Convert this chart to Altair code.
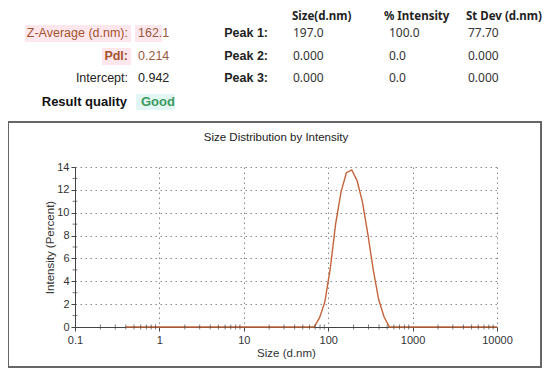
import altair as alt
import pandas as pd

# ---- data ----
sizes = [0.4, 0.4632, 0.5365, 0.6213, 0.7195, 0.8332, 0.9649, 1.117, 1.294, 1.499,
         1.736, 2.010, 2.328, 2.696, 3.122, 3.615, 4.187, 4.849, 5.615, 6.503,
         7.531, 8.721, 10.10, 11.70, 13.54, 15.69, 18.17, 21.04, 24.36, 28.21,
         32.67, 37.84, 43.82, 50.75, 58.77, 68.06, 78.82, 91.28, 105.7, 122.4,
         141.8, 164.2, 190.1, 220.2, 255.0, 295.3, 342.0, 396.1, 458.7, 531.2,
         615.1, 712.4, 825.0, 955.4, 1106, 1281, 1484, 1718, 1990, 2305,
         2669, 3091, 3580, 4145, 4801, 5560, 6439, 7456, 8635, 10000]
intensity = [0, 0, 0, 0, 0, 0, 0, 0, 0, 0,
             0, 0, 0, 0, 0, 0, 0, 0, 0, 0,
             0, 0, 0, 0, 0, 0, 0, 0, 0, 0,
             0, 0, 0, 0, 0, 0, 0.8, 2.2, 5.1, 9.0,
             11.8, 13.5, 13.75, 12.8, 10.9, 8.1, 5.0, 2.4, 0.9, 0,
             0, 0, 0, 0, 0, 0, 0, 0, 0, 0,
             0, 0, 0, 0, 0, 0, 0, 0, 0, 0]

x_ticks = [0.1, 1, 10, 100, 1000, 10000]
x_minor = [0.2, 0.3, 0.4, 0.5, 0.6, 0.7, 0.8, 0.9,
           2, 3, 4, 5, 6, 7, 8, 9,
           20, 30, 40, 50, 60, 70, 80, 90,
           200, 300, 400, 500, 600, 700, 800, 900,
           2000, 3000, 4000, 5000, 6000, 7000, 8000, 9000]
y_ticks = [0, 2, 4, 6, 8, 10, 12, 14]
y_minor = [1, 3, 5, 7, 9, 11, 13]

chart_title = "Size Distribution by Intensity"
x_title = "Size (d.nm)"
y_title = "Intensity (Percent)"

summary_labels = ["Z-Average (d.nm):", "PdI:", "Intercept:"]
summary_values = ["162.1", "0.214", "0.942"]
quality_label = "Result quality"
quality_value = "Good"
peak_headers = ["Size(d.nm)", "% Intensity", "St Dev (d.nm)"]
peak_labels = ["Peak 1:", "Peak 2:", "Peak 3:"]
peak_size = ["197.0", "0.000", "0.000"]
peak_intensity = ["100.0", "0.0", "0.0"]
peak_stdev = ["77.70", "0.000", "0.000"]

df = pd.DataFrame({"size": sizes, "intensity": intensity})

W, H = 422, 160
LINE = "#c4633a"
AX = "#444444"

xscale = alt.Scale(type="log", domain=[0.1, 10000], nice=False)
yscale = alt.Scale(domain=[0, 14], nice=False, zero=True)

xaxis = alt.Axis(values=x_ticks, format="~g", title=x_title,
                 grid=True, gridDash=[1.5, 3.5], gridColor="#888888",
                 domainColor=AX, tickColor=AX, tickSize=4,
                 labelOverlap=False, labelFlush=False,
                 labelFontSize=11, labelColor="#333333", labelPadding=3,
                 labelFont="Liberation Sans", titleFont="Liberation Sans",
                 titleFontSize=11.5, titleFontWeight="normal",
                 titleColor="#333333", titleX=W / 2, titleY=26,
                 titleBaseline="middle")
yaxis = alt.Axis(values=y_ticks, title=y_title,
                 grid=True, gridDash=[1.5, 3.5], gridColor="#888888",
                 domainColor=AX, tickColor=AX, tickSize=4,
                 labelOverlap=False, labelFlush=False,
                 labelFontSize=11, labelColor="#333333", labelPadding=2,
                 labelFont="Liberation Sans", titleFont="Liberation Sans",
                 titleFontSize=11.5, titleFontWeight="normal",
                 titleColor="#333333", titleX=-25, titleY=H / 2,
                 titleAngle=270, titleAlign="center",
                 titleBaseline="middle")

line = alt.Chart(df).mark_line(color=LINE, strokeWidth=1.4).encode(
    x=alt.X("size:Q", scale=xscale, axis=xaxis, title=x_title),
    y=alt.Y("intensity:Q", scale=yscale, axis=yaxis, title=y_title),
)

xminor = alt.Chart(pd.DataFrame({"size": x_minor, "intensity": [0] * len(x_minor)})).mark_tick(
    orient="vertical", size=5, thickness=1, color=AX
).encode(x=alt.X("size:Q", scale=xscale, axis=xaxis, title=x_title),
         y=alt.Y("intensity:Q", scale=yscale, axis=yaxis, title=y_title))

yminor = alt.Chart(pd.DataFrame({"intensity": y_minor, "size": [0.1] * len(y_minor)})).mark_tick(
    orient="horizontal", size=5, thickness=1, color=AX
).encode(x=alt.X("size:Q", scale=xscale, axis=xaxis, title=x_title),
         y=alt.Y("intensity:Q", scale=yscale, axis=yaxis, title=y_title))


def one():
    return pd.DataFrame({"t": [""]})


def txt(s, x, y, align="left", color="#222222", size=12.5, weight="normal",
        font="Liberation Sans"):
    return alt.Chart(pd.DataFrame({"t": [s]})).mark_text(
        align=align, baseline="middle", color=color, fontSize=size,
        fontWeight=weight, font=font
    ).encode(x=alt.value(x), y=alt.value(y), text="t:N")


def box(x1, x2, y1, y2, color):
    return alt.Chart(one()).mark_rect(color=color).encode(
        x=alt.value(x1), x2=alt.value(x2), y=alt.value(y1), y2=alt.value(y2))


OX, OY = 75, 167  # page offset of plot origin

frame = alt.Chart(one()).mark_rect(fillOpacity=0, stroke="#666666", strokeWidth=2).encode(
    x=alt.value(8 - OX), x2=alt.value(541 - OX),
    y=alt.value(122 - OY), y2=alt.value(367 - OY))

layers = [frame]
# highlight backgrounds
layers.append(box(25 - OX, 131 - OX, 25 - OY, 42 - OY, "#fde6ec"))
layers.append(box(135 - OX, 162 - OX, 25 - OY, 42 - OY, "#fde6ec"))
layers.append(box(102 - OX, 131 - OX, 48 - OY, 65 - OY, "#fde6ec"))
layers.append(box(136 - OX, 175 - OX, 94 - OY, 110 - OY, "#e2f6f3"))

rows_y = [33, 56, 78]
label_colors = ["#a5532f", "#a5532f", "#222222"]
label_weights = ["normal", "bold", "normal"]
value_colors = ["#9a5a3e", "#9a5a3e", "#222222"]
for i in range(3):
    layers.append(txt(summary_labels[i], 128 - OX, rows_y[i] - OY, align="right",
                      color=label_colors[i], weight=label_weights[i]))
    layers.append(txt(summary_values[i], 138 - OX, rows_y[i] - OY,
                      color=value_colors[i]))
    layers.append(txt(peak_labels[i], 268 - OX, rows_y[i] - OY, align="right",
                      weight="bold"))
    layers.append(txt(peak_size[i], 293 - OX, rows_y[i] - OY, font="Noto Sans",
                      size=12, color="#333333"))
    layers.append(txt(peak_intensity[i], 389 - OX, rows_y[i] - OY, font="Noto Sans",
                      size=12, color="#333333"))
    layers.append(txt(peak_stdev[i], 468 - OX, rows_y[i] - OY, font="Noto Sans",
                      size=12, color="#333333"))

header_x = [292, 384, 466]
for i in range(3):
    layers.append(txt(peak_headers[i], header_x[i] - OX, 17 - OY, font="Noto Sans",
                      size=11.5, color="#222222", weight="bold"))

layers.append(txt(quality_label, 127 - OX, 102 - OY, align="right", weight="bold",
                  color="#111111", size=13))
layers.append(txt(quality_value, 141 - OX, 102 - OY, weight="bold", color="#3d9a5f",
                  size=13))

layers.append(txt(chart_title, 276 - OX, 138 - OY, align="center", size=11.5,
                  color="#222222"))

layers += [line, xminor, yminor]

chart = alt.layer(*layers).properties(
    width=W, height=H,
    autosize=alt.AutoSizeParams(type="none"),
    padding={"left": 67, "top": 159, "right": 45, "bottom": 43},
).configure_view(strokeWidth=0)

chart.save("out.html", embed_options={"renderer": "svg", "actions": False})
